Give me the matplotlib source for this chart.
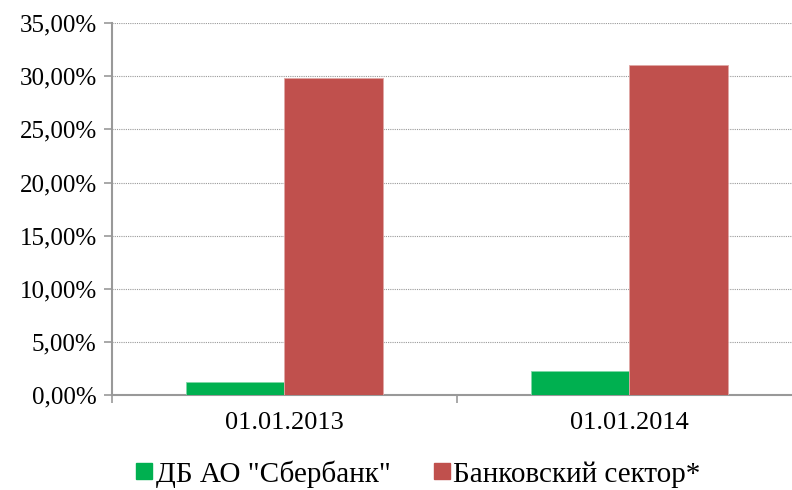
import numpy as np
import matplotlib.pyplot as plt
from matplotlib.lines import Line2D
from matplotlib.ticker import FuncFormatter

plt.rcParams['font.family'] = ['Liberation Serif', 'DejaVu Serif']

dates = ["01.01.2013", "01.01.2014"]
sber = [1.3, 2.25]
sector = [29.8, 31.1]
names = ['ДБ АО "Сбербанк"', 'Банковский сектор*']
colors = ["#00B050", "#C0504D"]

fig = plt.figure(figsize=(7.92, 4.90), dpi=100)
ax = fig.add_axes([0.1414, 0.193, 0.871, 0.76])

x = np.arange(len(dates))
w = 0.285
ax.bar(x - w/2, sber, w, color=colors[0], edgecolor="#7fd8a8", lw=0.6, zorder=3)
ax.bar(x + w/2, sector, w, color=colors[1], edgecolor="#e0a8a6", lw=0.6, zorder=3)

ax.set_xlim(-0.5, 1.5)
ax.set_ylim(0, 35)
ax.set_yticks(np.arange(0, 36, 5))
ax.yaxis.set_major_formatter(FuncFormatter(lambda v, p: f"{v:.2f}%".replace(".", ",")))
ax.set_xticks([-0.5, 0.5, 1.5])
ax.set_xticklabels([])
ax.set_xticks(x, minor=True)
ax.set_xticklabels(dates, minor=True)
ax.tick_params(axis="x", which="minor", length=0, pad=12, labelsize=19)
ax.tick_params(axis="x", which="major", length=6, color="#999999", width=1.2)
ax.tick_params(axis="y", length=6, color="#999999", width=1.2, labelsize=18, pad=5)

ax.grid(axis="y", ls=(0, (1, 1)), color="#999999", lw=0.8, zorder=0)
for s in ["top", "right"]:
    ax.spines[s].set_visible(False)
for s in ["left", "bottom"]:
    ax.spines[s].set_color("#999999")
    ax.spines[s].set_linewidth(1.5)

handles = [Line2D([], [], marker="s", ls="", markersize=12, color=c) for c in colors]
fig.legend(handles, names, loc="center", bbox_to_anchor=(0.527, 0.033), ncol=2,
           frameon=False, fontsize=21, handletextpad=0.05, columnspacing=1.4,
           handlelength=0.7, borderaxespad=0, borderpad=0)

fig.savefig("out.png", dpi=100)
